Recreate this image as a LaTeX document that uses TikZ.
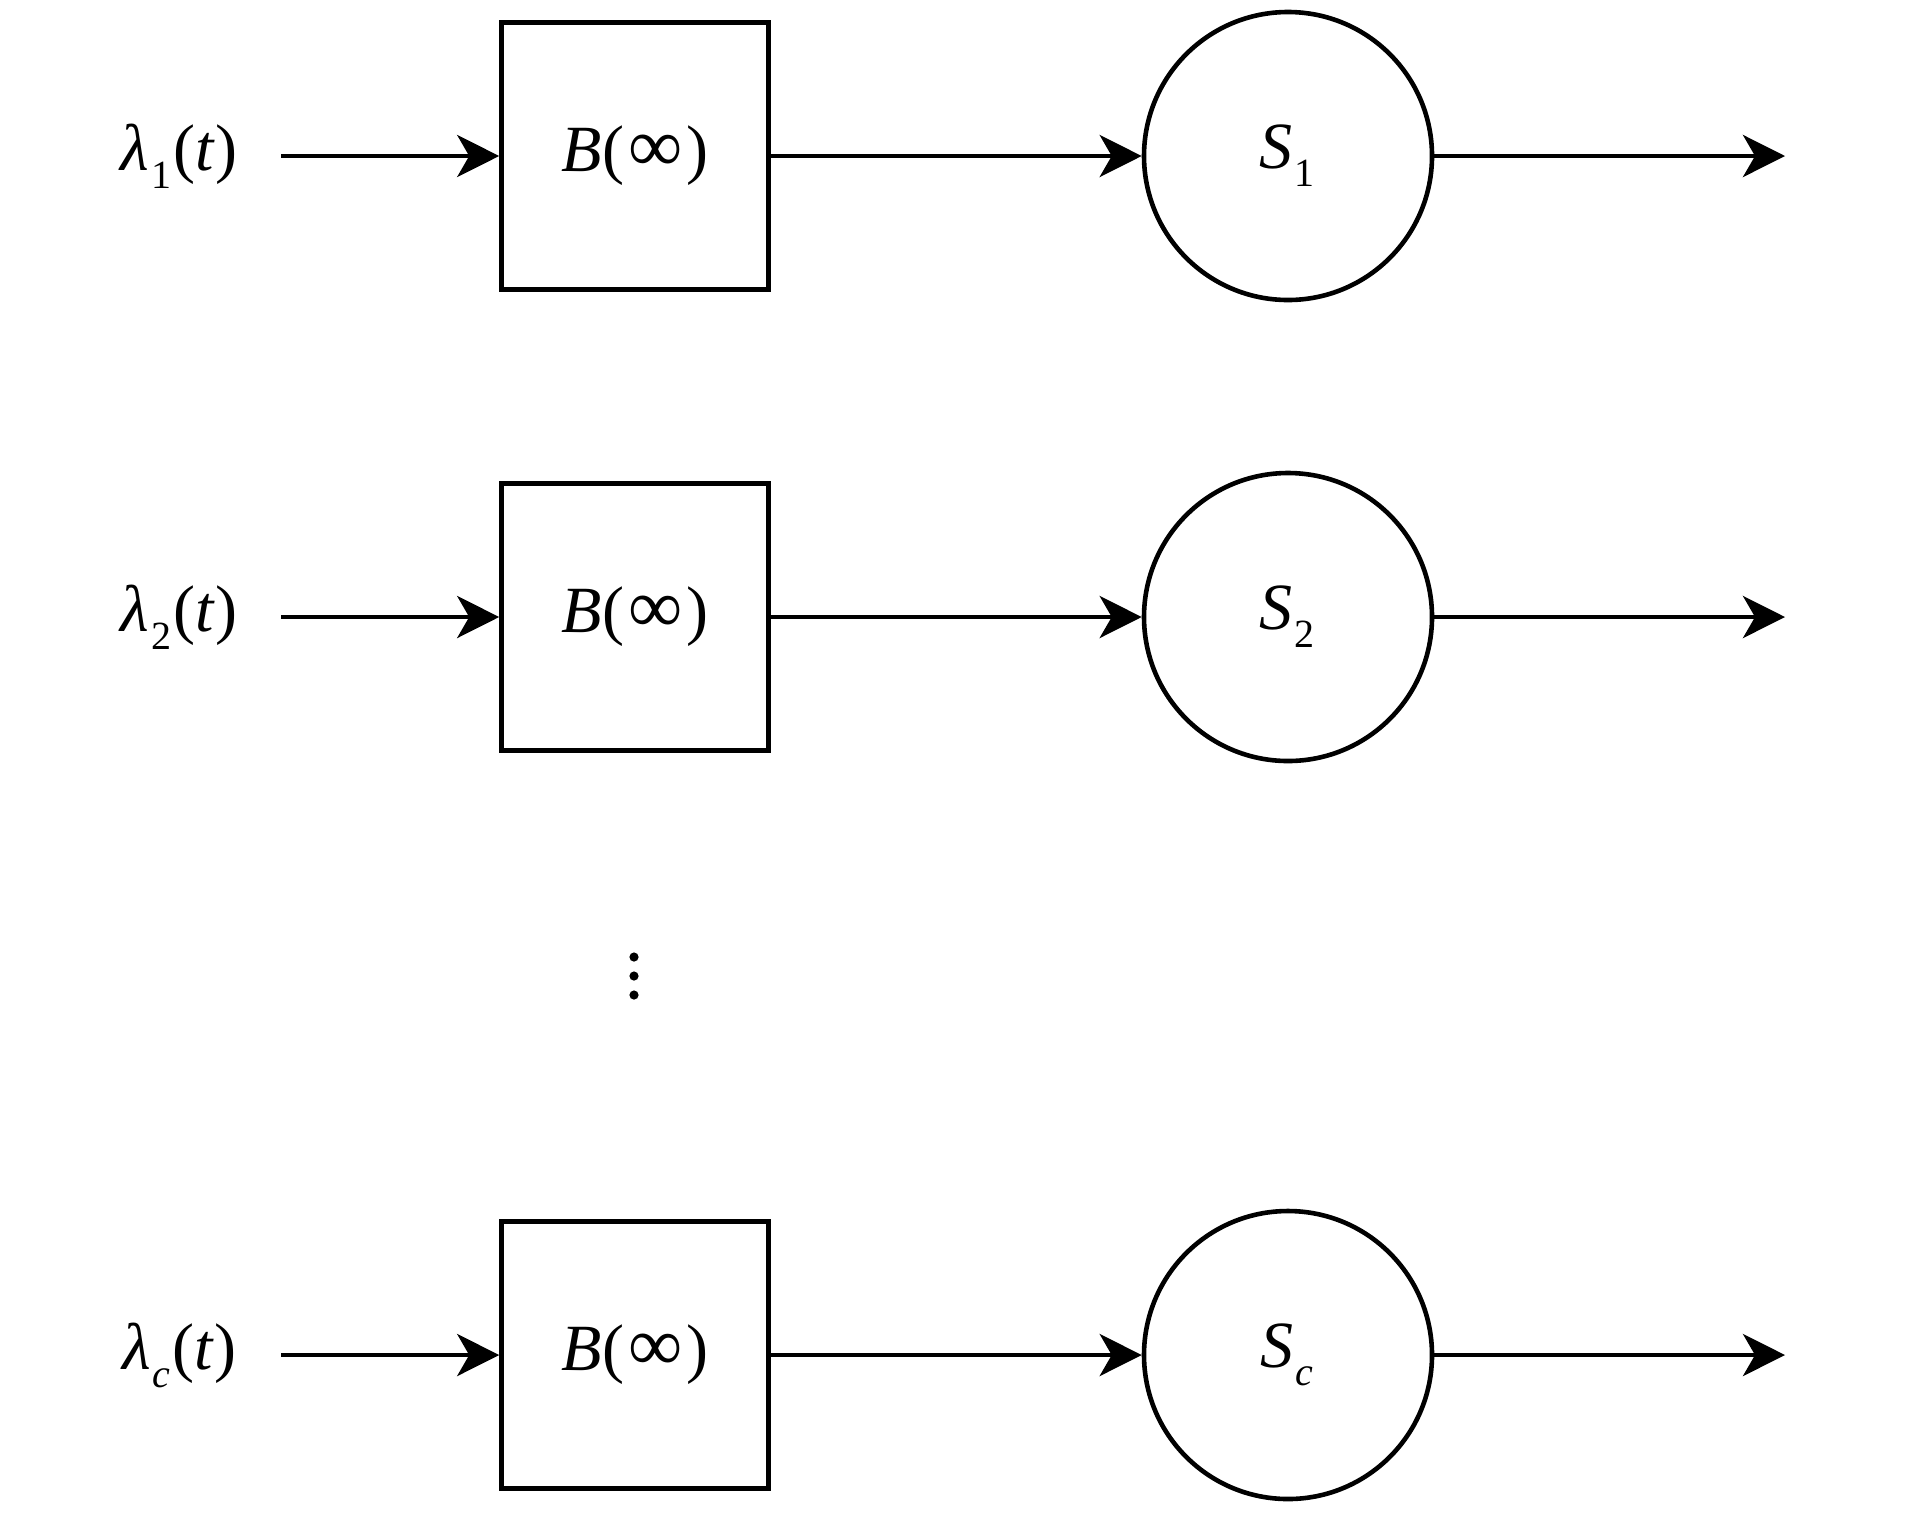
\documentclass[tikz,border=0pt]{standalone}
\usepackage{fontspec}
\setmainfont{Liberation Serif}
\usetikzlibrary{arrows.meta}
\newcommand{\lowsub}[1]{\kern0.5pt\raisebox{-4.5pt}{\fontsize{10}{10}\selectfont #1}\kern0.5pt}
\begin{document}
\begin{tikzpicture}[x=0.25pt,y=-0.25pt,
  lab/.style={inner sep=0pt, font=\fontsize{16.5}{18}\selectfont},
  buf/.style={draw, line width=1.15pt, minimum width=66.75pt, minimum height=66.75pt, inner sep=0pt, font=\fontsize{16.5}{18}\selectfont},
  srv/.style={draw, circle, line width=1.15pt, minimum size=72pt, inner sep=0pt, font=\fontsize{16.5}{18}\selectfont},
  flow/.style={-{Stealth[length=10.5pt,width=10.5pt,inset=3pt]}, line width=1.15pt}]
\useasboundingbox (0,0) rectangle (1913,1512);
% row 1
\node[lab] (l1) at (179,156) {\textit{λ}\lowsub{1}(\textit{t})};
\coordinate (s1) at (281,156);
\node[buf] (b1) at (635,156) {\textit{B}(\kern1pt{\fontsize{19}{18}\selectfont ∞}\kern1pt)};
\node[srv] (c1) at (1288,156) {\textit{S}\lowsub{1}};
\coordinate (e1) at (1785,156);
\draw[flow] (s1) -- (b1);
\draw[flow] (b1) -- (c1);
\draw[flow] (c1) -- (e1);
% row 2
\node[lab] (l2) at (179,617) {\textit{λ}\lowsub{2}(\textit{t})};
\coordinate (s2) at (281,617);
\node[buf] (b2) at (635,617) {\textit{B}(\kern1pt{\fontsize{19}{18}\selectfont ∞}\kern1pt)};
\node[srv] (c2) at (1288,617) {\textit{S}\lowsub{2}};
\coordinate (e2) at (1785,617);
\draw[flow] (s2) -- (b2);
\draw[flow] (b2) -- (c2);
\draw[flow] (c2) -- (e2);
% dots
\fill (634,957) circle (4.6);
\fill (634,976) circle (4.6);
\fill (634,995) circle (4.6);
% row c
\node[lab] (l3) at (179,1355) {\textit{λ}\lowsub{\textit{c}}(\textit{t})};
\coordinate (s3) at (281,1355);
\node[buf] (b3) at (635,1355) {\textit{B}(\kern1pt{\fontsize{19}{18}\selectfont ∞}\kern1pt)};
\node[srv] (c3) at (1288,1355) {\textit{S}\lowsub{\textit{c}}};
\coordinate (e3) at (1785,1355);
\draw[flow] (s3) -- (b3);
\draw[flow] (b3) -- (c3);
\draw[flow] (c3) -- (e3);
\end{tikzpicture}
\end{document}
